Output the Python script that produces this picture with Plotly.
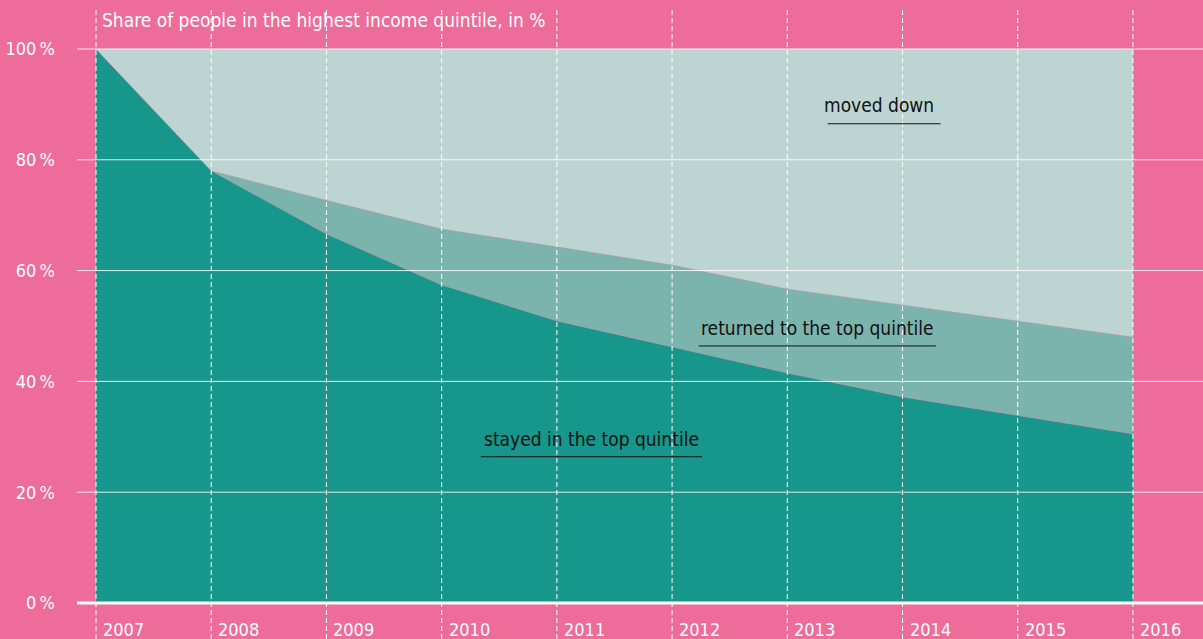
import plotly.graph_objects as go

years = [2007, 2008, 2009, 2010, 2011, 2012, 2013, 2014, 2015, 2016]
stayed = [100, 78, 66.6, 57.4, 50.9, 46.2, 41.5, 37.2, 33.9, 30.5]
returned = [0, 0, 6.1, 10.1, 13.4, 14.8, 15.2, 16.6, 17.0, 17.5]
moved_down = [0, 22, 27.3, 32.5, 35.7, 39.0, 43.3, 46.2, 49.1, 52.0]
y_ticks = [0, 20, 40, 60, 80, 100]
y_tick_labels = ["0\u2009%", "20\u2009%", "40\u2009%", "60\u2009%", "80\u2009%", "100\u2009%"]
title_text = "Share of people in the highest income quintile, in %"

BG = "#EE6C9A"
FONT = "DejaVu Sans Condensed, Roboto, sans-serif"

fig = go.Figure()
for name, vals, col in [
    ("stayed in the top quintile", stayed, "#17968B"),
    ("returned to the top quintile", returned, "#7BB3AD"),
    ("moved down", moved_down, "#BCD5D2"),
]:
    fig.add_trace(go.Scatter(
        x=years, y=vals, name=name, stackgroup="one", mode="lines",
        line=dict(width=0.6, color="rgba(200,150,170,0.6)"),
        fillcolor=col, hoverinfo="x+y+name",
    ))

shapes = []
# horizontal gridlines above the areas
for v in y_ticks:
    shapes.append(dict(type="line", xref="paper", yref="y", x0=0, x1=1, y0=v, y1=v,
                       line=dict(color="rgba(255,255,255,0.85)" if v else "white",
                                 width=3 if v == 0 else 1), layer="above"))
# vertical dashed lines
for yr in years:
    shapes.append(dict(type="line", xref="x", yref="paper", x0=yr, x1=yr, y0=0, y1=1,
                       line=dict(color="white", width=1, dash="5px,3px"), layer="above"))

annotations = []
annotations.append(dict(x=years[0], y=105.2, xref="x", yref="y", text=title_text,
                        showarrow=False, xanchor="left", yanchor="middle", xshift=4,
                        font=dict(family=FONT, size=19, color="white")))
for yr in years:
    annotations.append(dict(x=yr, y=-4.8, xref="x", yref="y", text=str(yr),
                            showarrow=False, xanchor="left", yanchor="middle", xshift=5,
                            font=dict(family=FONT, size=18, color="white")))

# series labels with underline
labels = [
    ("moved down", 2013.80, 89.9, 2013.35, 2014.33, 86.5),
    ("returned to the top quintile", 2013.26, 49.6, 2012.23, 2014.29, 46.4),
    ("stayed in the top quintile", 2011.30, 29.6, 2010.34, 2012.26, 26.4),
]
for txt, lx, ly, ux0, ux1, uy in labels:
    annotations.append(dict(x=lx, y=ly, xref="x", yref="y", text=txt, showarrow=False,
                            xanchor="center", yanchor="middle",
                            font=dict(family=FONT, size=19, color="#111111")))
    shapes.append(dict(type="line", xref="x", yref="y", x0=ux0, x1=ux1, y0=uy, y1=uy,
                       line=dict(color="#111111", width=1), layer="above"))

fig.update_layout(
    width=1203, height=639,
    margin=dict(l=77, r=0, t=8, b=0),
    paper_bgcolor=BG, plot_bgcolor=BG,
    showlegend=False,
    shapes=shapes, annotations=annotations,
    font=dict(family=FONT, color="white", size=18),
    xaxis=dict(range=[2006.835, 2016.608], showgrid=False, zeroline=False,
               showticklabels=False, fixedrange=True),
    yaxis=dict(range=[-6.5, 107.4], tickvals=y_ticks, ticktext=y_tick_labels,
               showgrid=False, zeroline=False, ticks="", ticklabelstandoff=21,
               tickfont=dict(family=FONT, size=18, color="white"), fixedrange=True),
)

fig.write_html(
    "out.html",
    config={"displayModeBar": False},
    post_script="document.body.style.margin='0';document.body.style.overflow='hidden';",
)
